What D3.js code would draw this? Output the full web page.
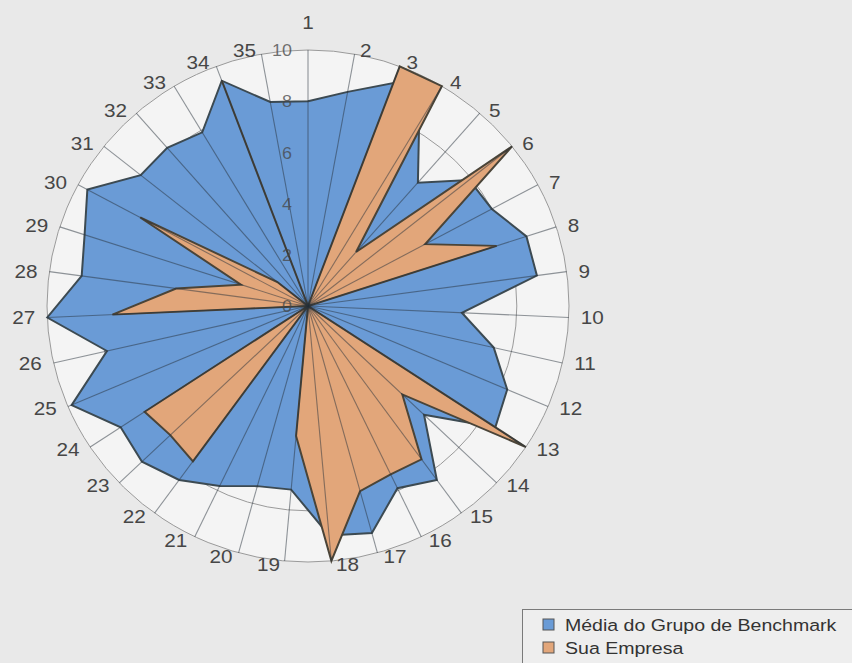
<!DOCTYPE html>
<html>
<head>
<meta charset="utf-8">
<script src="https://cdn.jsdelivr.net/npm/d3@7"></script>
<style>
  html, body { margin: 0; padding: 0; background: #e9e9e9; }
  svg { display: block; }
</style>
</head>
<body>
<script>
// Data

const categories = ["1", "2", "3", "4", "5", "6", "7", "8", "9", "10",
  "11", "12", "13", "14", "15", "16", "17", "18", "19", "20",
  "21", "22", "23", "24", "25", "26", "27", "28", "29", "30",
  "31", "32", "33", "34", "35"]

const mediaBenchmark = [8.0, 8.5, 9.3, 8.3, 6.4, 7.9, 8.0, 8.8, 8.85, 5.9,
  7.3, 8.3, 8.6, 6.15, 8.4, 7.9, 9.2, 9.0, 7.2, 7.3,
  7.8, 8.4, 8.8, 8.6, 9.85, 7.9, 10, 8.75, 9.0, 9.6,
  8.2, 8.2, 7.9, 9.4, 8.1]

const suaEmpresa = [0, 0, 10, 10, 2.8, 10, 5.1, 7.6, 0, 0,
  0, 0, 10, 5.0, 7.4, 7.3, 7.5, 10, 5.1, 0,
  0, 7.5, 7.3, 7.5, 0, 0, 7.5, 5.1, 2.7, 7.3,
  1.5, 0, 0, 9.4, 0]

const radialTicks = [0, 2, 4, 6, 8, 10]

const seriesNames = ["Média do Grupo de Benchmark", "Sua Empresa"]

// Layout
const width = 852
const height = 663
const cx = 308
const cy = 306
const R = 261
const squash = 256 / 261 // scan is a touch flatter than wide

const svg = d3.select("body")
  .append("svg")
  .attr("width", width)
  .attr("height", height)

const r = d3.scaleLinear().domain([0, 10]).range([0, R])
const angle = d3.scaleLinear().domain([0, categories.length]).range([0, 2 * Math.PI])

const plot = svg.append("g")
  .attr("transform", `translate(${cx},${cy}) scale(1,${squash})`)

// Plot area + rings
plot.append("circle")
  .attr("r", r(10))
  .attr("fill", "#f4f4f4")

plot.append("g")
  .selectAll("circle")
  .data(radialTicks.filter(d => d > 0))
  .join("circle")
  .attr("r", d => r(d))
  .attr("fill", "none")
  .attr("stroke", "#9a9a9a")
  .attr("stroke-width", 1)
  .attr("vector-effect", "non-scaling-stroke")

// Series
const radar = d3.lineRadial()
  .angle((d, i) => angle(i))
  .radius(d => r(d))
  .curve(d3.curveLinearClosed)

plot.append("path")
  .datum(mediaBenchmark)
  .attr("d", radar)
  .attr("fill", "#6a9bd6")
  .attr("stroke", "#3c4a52")
  .attr("stroke-width", 2)
  .attr("stroke-linejoin", "miter")

plot.append("path")
  .datum(suaEmpresa)
  .attr("d", radar)
  .attr("fill", "#e2a67a")
  .attr("stroke", "#4a4438")
  .attr("stroke-width", 2)
  .attr("stroke-linejoin", "miter")

// Spokes on top
plot.append("g")
  .selectAll("line")
  .data(categories)
  .join("line")
  .attr("x1", 0)
  .attr("y1", 0)
  .attr("x2", (d, i) => r(10) * Math.sin(angle(i)))
  .attr("y2", (d, i) => -r(10) * Math.cos(angle(i)))
  .attr("stroke", "rgba(40,50,60,0.5)")
  .attr("stroke-width", 1.1)
  .attr("vector-effect", "non-scaling-stroke")

// Radial tick labels
svg.append("g")
  .selectAll("text")
  .data(radialTicks)
  .join("text")
  .attr("transform", d => `translate(${cx - 16},${cy - r(d) * squash + 1}) scale(1.12,1)`)
  .attr("text-anchor", "end")
  .attr("dominant-baseline", "central")
  .style("font-family", "'Liberation Sans', Arial, sans-serif")
  .style("font-size", "16px")
  .style("fill", "rgba(70,70,70,0.75)")
  .text(d => d)

// Category labels
svg.append("g")
  .selectAll("text")
  .data(categories)
  .join("text")
  .each(function (d, i) {
    const s = Math.sin(angle(i))
    const c = Math.cos(angle(i))
    const xe = cx + r(10) * s
    const ye = cy - r(10) * squash * c
    let x = xe
    let y = ye - 27
    let anchor = "middle"
    if (Math.abs(s) > 0.01) {
      anchor = s > 0 ? "start" : "end"
      x = xe + Math.sign(s) * (4 + 8 * Math.abs(s))
      y = ye - 4 * c
    }
    d3.select(this)
      .attr("transform", `translate(${x},${y}) scale(1.15,1)`)
      .attr("text-anchor", anchor)
  })
  .attr("dominant-baseline", "central")
  .style("font-family", "'Liberation Sans', Arial, sans-serif")
  .style("font-size", "18px")
  .style("fill", "#464646")
  .text(d => d)

// Legend
const legend = svg.append("g")

legend.append("rect")
  .attr("x", 522.5)
  .attr("y", 609.5)
  .attr("width", 340)
  .attr("height", 80)
  .attr("fill", "#eeeeee")
  .attr("stroke", "#7a7a7a")

const swatch = ["#6a9bd6", "#e2a67a"]

legend.selectAll("rect.sw")
  .data(seriesNames)
  .join("rect")
  .attr("class", "sw")
  .attr("x", 543)
  .attr("y", (d, i) => 619 + i * 23)
  .attr("width", 11)
  .attr("height", 11)
  .attr("fill", (d, i) => swatch[i])
  .attr("stroke", "#555")

legend.selectAll("text")
  .data(seriesNames)
  .join("text")
  .attr("transform", (d, i) => `translate(565,${625 + i * 23}) scale(1.15,1)`)
  .attr("dominant-baseline", "central")
  .style("font-family", "'Liberation Sans', Arial, sans-serif")
  .style("font-size", "17px")
  .style("fill", "#333")
  .text(d => d)
</script>
</body>
</html>
